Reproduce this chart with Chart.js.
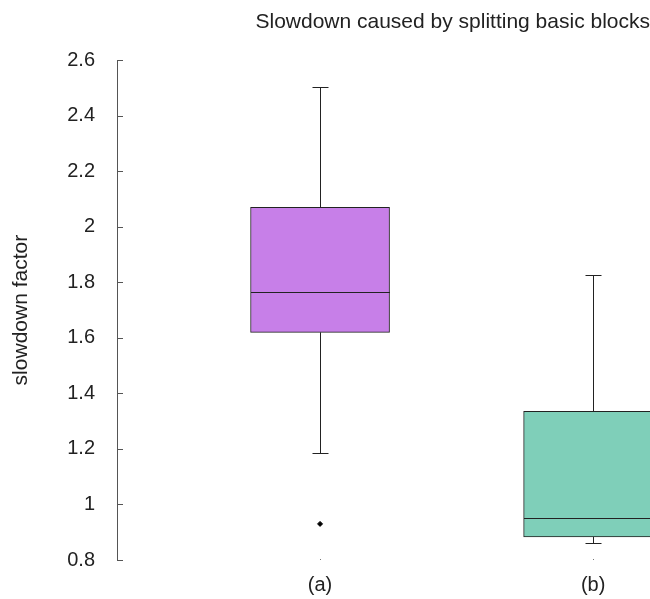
<!DOCTYPE html>
<html>
<head>
<meta charset="utf-8">
<script src="https://cdn.jsdelivr.net/npm/chart.js@4.4.0/dist/chart.umd.min.js"></script>
<style>
  html, body { margin: 0; padding: 0; background: #fff; overflow: hidden; }
</style>
</head>
<body>
<canvas id="chart" width="650" height="599"></canvas>
<script>
// box plot values
var categories = ['(a)', '(b)'];
var whiskerLow = [1.185, 0.862];
var q1 = [1.62, 0.883];
var median = [1.765, 0.95];
var q3 = [2.07, 1.335];
var whiskerHigh = [2.505, 1.825];
var outliers = [[0.93], []];
var boxColors = ['#c77fe8', '#7fcfb9'];

var boxData = categories.map(function (c, i) {
    return { x: i + 1, y: [q1[i], q3[i]] };
});
var outlierData = [];
outliers.forEach(function (list, i) {
    list.forEach(function (v) { outlierData.push({ x: i + 1, y: v }); });
});

//whiskers, caps, median and inward ticks drawn through the scales
var boxExtras = {
    id: 'boxExtras',
    afterDatasetsDraw: function (chart) {
        var ctx = chart.ctx, xs = chart.scales.x, ys = chart.scales.y, area = chart.chartArea;
        ctx.save();
        ctx.beginPath();
        ctx.rect(area.left, area.top - 2, chart.width - area.left, area.bottom - area.top + 4);
        ctx.clip();
        ctx.strokeStyle = '#222';
        ctx.lineWidth = 1;
        var half = 69.5, cap = 8;
        categories.forEach(function (c, i) {
            var x = Math.round(xs.getPixelForValue(i + 1)) + 0.5;
            var seg = function (x1, y1, x2, y2) {
                ctx.beginPath(); ctx.moveTo(x1, y1); ctx.lineTo(x2, y2); ctx.stroke();
            };
            var yl = Math.round(ys.getPixelForValue(whiskerLow[i])) + 0.5;
            var yh = Math.round(ys.getPixelForValue(whiskerHigh[i])) + 0.5;
            var y1 = ys.getPixelForValue(q1[i]);
            var y3 = ys.getPixelForValue(q3[i]);
            var ym = Math.round(ys.getPixelForValue(median[i])) + 0.5;
            seg(x, yl, x, y1);
            seg(x, y3, x, yh);
            seg(x - cap, yl, x + cap, yl);
            seg(x - cap, yh, x + cap, yh);
            seg(x - half, ym, x + half, ym);
        });
        ctx.restore();

        // inward tick marks on y axis
        ctx.save();
        ctx.strokeStyle = '#555';
        ctx.lineWidth = 1;
        ys.ticks.forEach(function (t) {
            var y = Math.round(ys.getPixelForValue(t.value)) + 0.5;
            ctx.beginPath(); ctx.moveTo(area.left, y); ctx.lineTo(area.left + 6, y); ctx.stroke();
        });
        ctx.fillStyle = '#777';
        categories.forEach(function (c, i) {
            var x = Math.round(xs.getPixelForValue(i + 1));
            ctx.fillRect(x, area.bottom - 1, 1, 1);
        });
        ctx.restore();
    }
};

Chart.defaults.font.family = '"Liberation Sans", Arial, sans-serif';
Chart.defaults.color = '#222';

var chart = new Chart(document.getElementById('chart'), {
    type: 'bar',
    data: {
        datasets: [
            {
                type: 'bar',
                data: boxData,
                backgroundColor: boxColors,
                borderColor: '#222',
                borderWidth: 1,
                borderSkipped: false,
                barThickness: 139,
                clip: false
            },
            {
                type: 'scatter',
                data: outlierData,
                pointStyle: 'rectRot',
                radius: 2.5,
                backgroundColor: '#000',
                borderColor: '#000',
                borderWidth: 1
            }
        ]
    },
    options: {
        responsive: false,
        animation: false,
        layout: { padding: { left: 0, right: 0, top: 0, bottom: 0 } },
        plugins: {
            legend: { display: false },
            tooltip: { enabled: false },
            title: {
                display: true,
                text: 'Slowdown caused by splitting basic blocks',
                align: 'end',
                color: '#222',
                font: { size: 21, weight: 'normal' },
                padding: { top: 10, bottom: 25 }
            }
        },
        scales: {
            x: {
                type: 'linear',
                offset: false,
                min: 0.2564,
                max: 2.19,
                grid: { display: false },
                border: { display: false },
                afterBuildTicks: function (scale) {
                    scale.ticks = categories.map(function (c, i) { return { value: i + 1 }; });
                },
                ticks: {
                    autoSkip: false,
                    maxRotation: 0,
                    padding: 5,
                    font: { size: 20 },
                    color: '#222',
                    callback: function (v) { return categories[v - 1] || ''; }
                },
                afterFit: function (scale) {
                    scale.height = 39;
                    scale.paddingLeft = 0;
                    scale.paddingRight = 0;
                }
            },
            y: {
                min: 0.8,
                max: 2.6,
                grid: { display: false },
                border: { display: true, color: '#555', width: 1 },
                ticks: {
                    stepSize: 0.2,
                    padding: 14,
                    font: { size: 20 },
                    color: '#222',
                    callback: function (v) { return Math.round(v * 10) / 10; }
                },
                title: {
                    display: true,
                    text: 'slowdown factor',
                    font: { size: 21 },
                    color: '#222',
                    padding: { top: 9, bottom: 0 }
                },
                afterFit: function (scale) { scale.width = 117; }
            }
        }
    },
    plugins: [boxExtras]
});
</script>
</body>
</html>
